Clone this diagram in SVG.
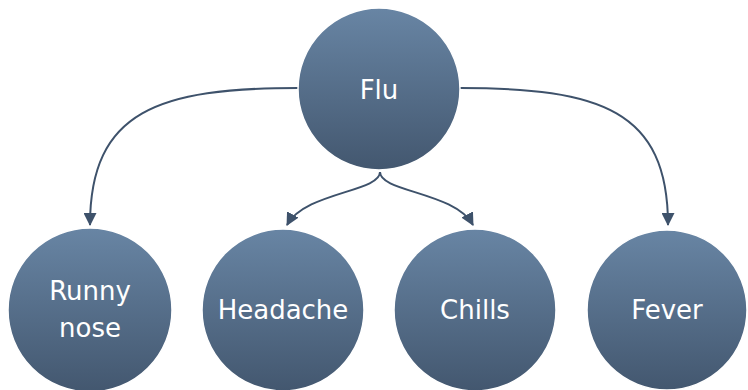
<svg xmlns="http://www.w3.org/2000/svg" width="748" height="390" viewBox="0 0 748 390">
<defs>
<linearGradient id="g" x1="0" y1="0" x2="0" y2="1">
<stop offset="0" stop-color="#6885a4"/>
<stop offset="1" stop-color="#43576f"/>
</linearGradient>
<marker id="arr" markerWidth="13" markerHeight="13" viewBox="0 0 13 13" refX="12" refY="6.5" orient="auto" markerUnits="userSpaceOnUse">
<path d="M0,0 L13,6.5 L0,13 Z" fill="#3e526b"/>
</marker>
<style>
.n{fill:url(#g);stroke:#ffffff;stroke-width:1.5}
.t{font-family:"DejaVu Sans",sans-serif;font-size:26px;fill:#ffffff;text-anchor:middle}
.c{fill:none;stroke:#3e526b;stroke-width:2;marker-end:url(#arr)}
</style>
</defs>
<rect width="748" height="390" fill="#ffffff"/>
<g id="connectors">
<path class="c" d="M298,88 C160,88 90,110 90,225"/>
<path class="c" d="M380,172 C380,192 305,192 287,225"/>
<path class="c" d="M380,172 C380,192 455,192 473,225"/>
<path class="c" d="M460,88 C600,88 668,110 668,225"/>
</g>
<g id="flu">
<circle class="n" cx="379" cy="89" r="81"/>
<text class="t" x="379" y="99">Flu</text>
</g>
<g id="runny-nose">
<circle class="n" cx="90" cy="310" r="82"/>
<text class="t" x="90" y="300">Runny</text>
<text class="t" x="90" y="337">nose</text>
</g>
<g id="headache">
<circle class="n" cx="283" cy="310" r="81"/>
<text class="t" x="283" y="319">Headache</text>
</g>
<g id="chills">
<circle class="n" cx="475" cy="310" r="81"/>
<text class="t" x="475" y="319">Chills</text>
</g>
<g id="fever">
<circle class="n" cx="667" cy="310" r="80"/>
<text class="t" x="667" y="319">Fever</text>
</g>
</svg>
